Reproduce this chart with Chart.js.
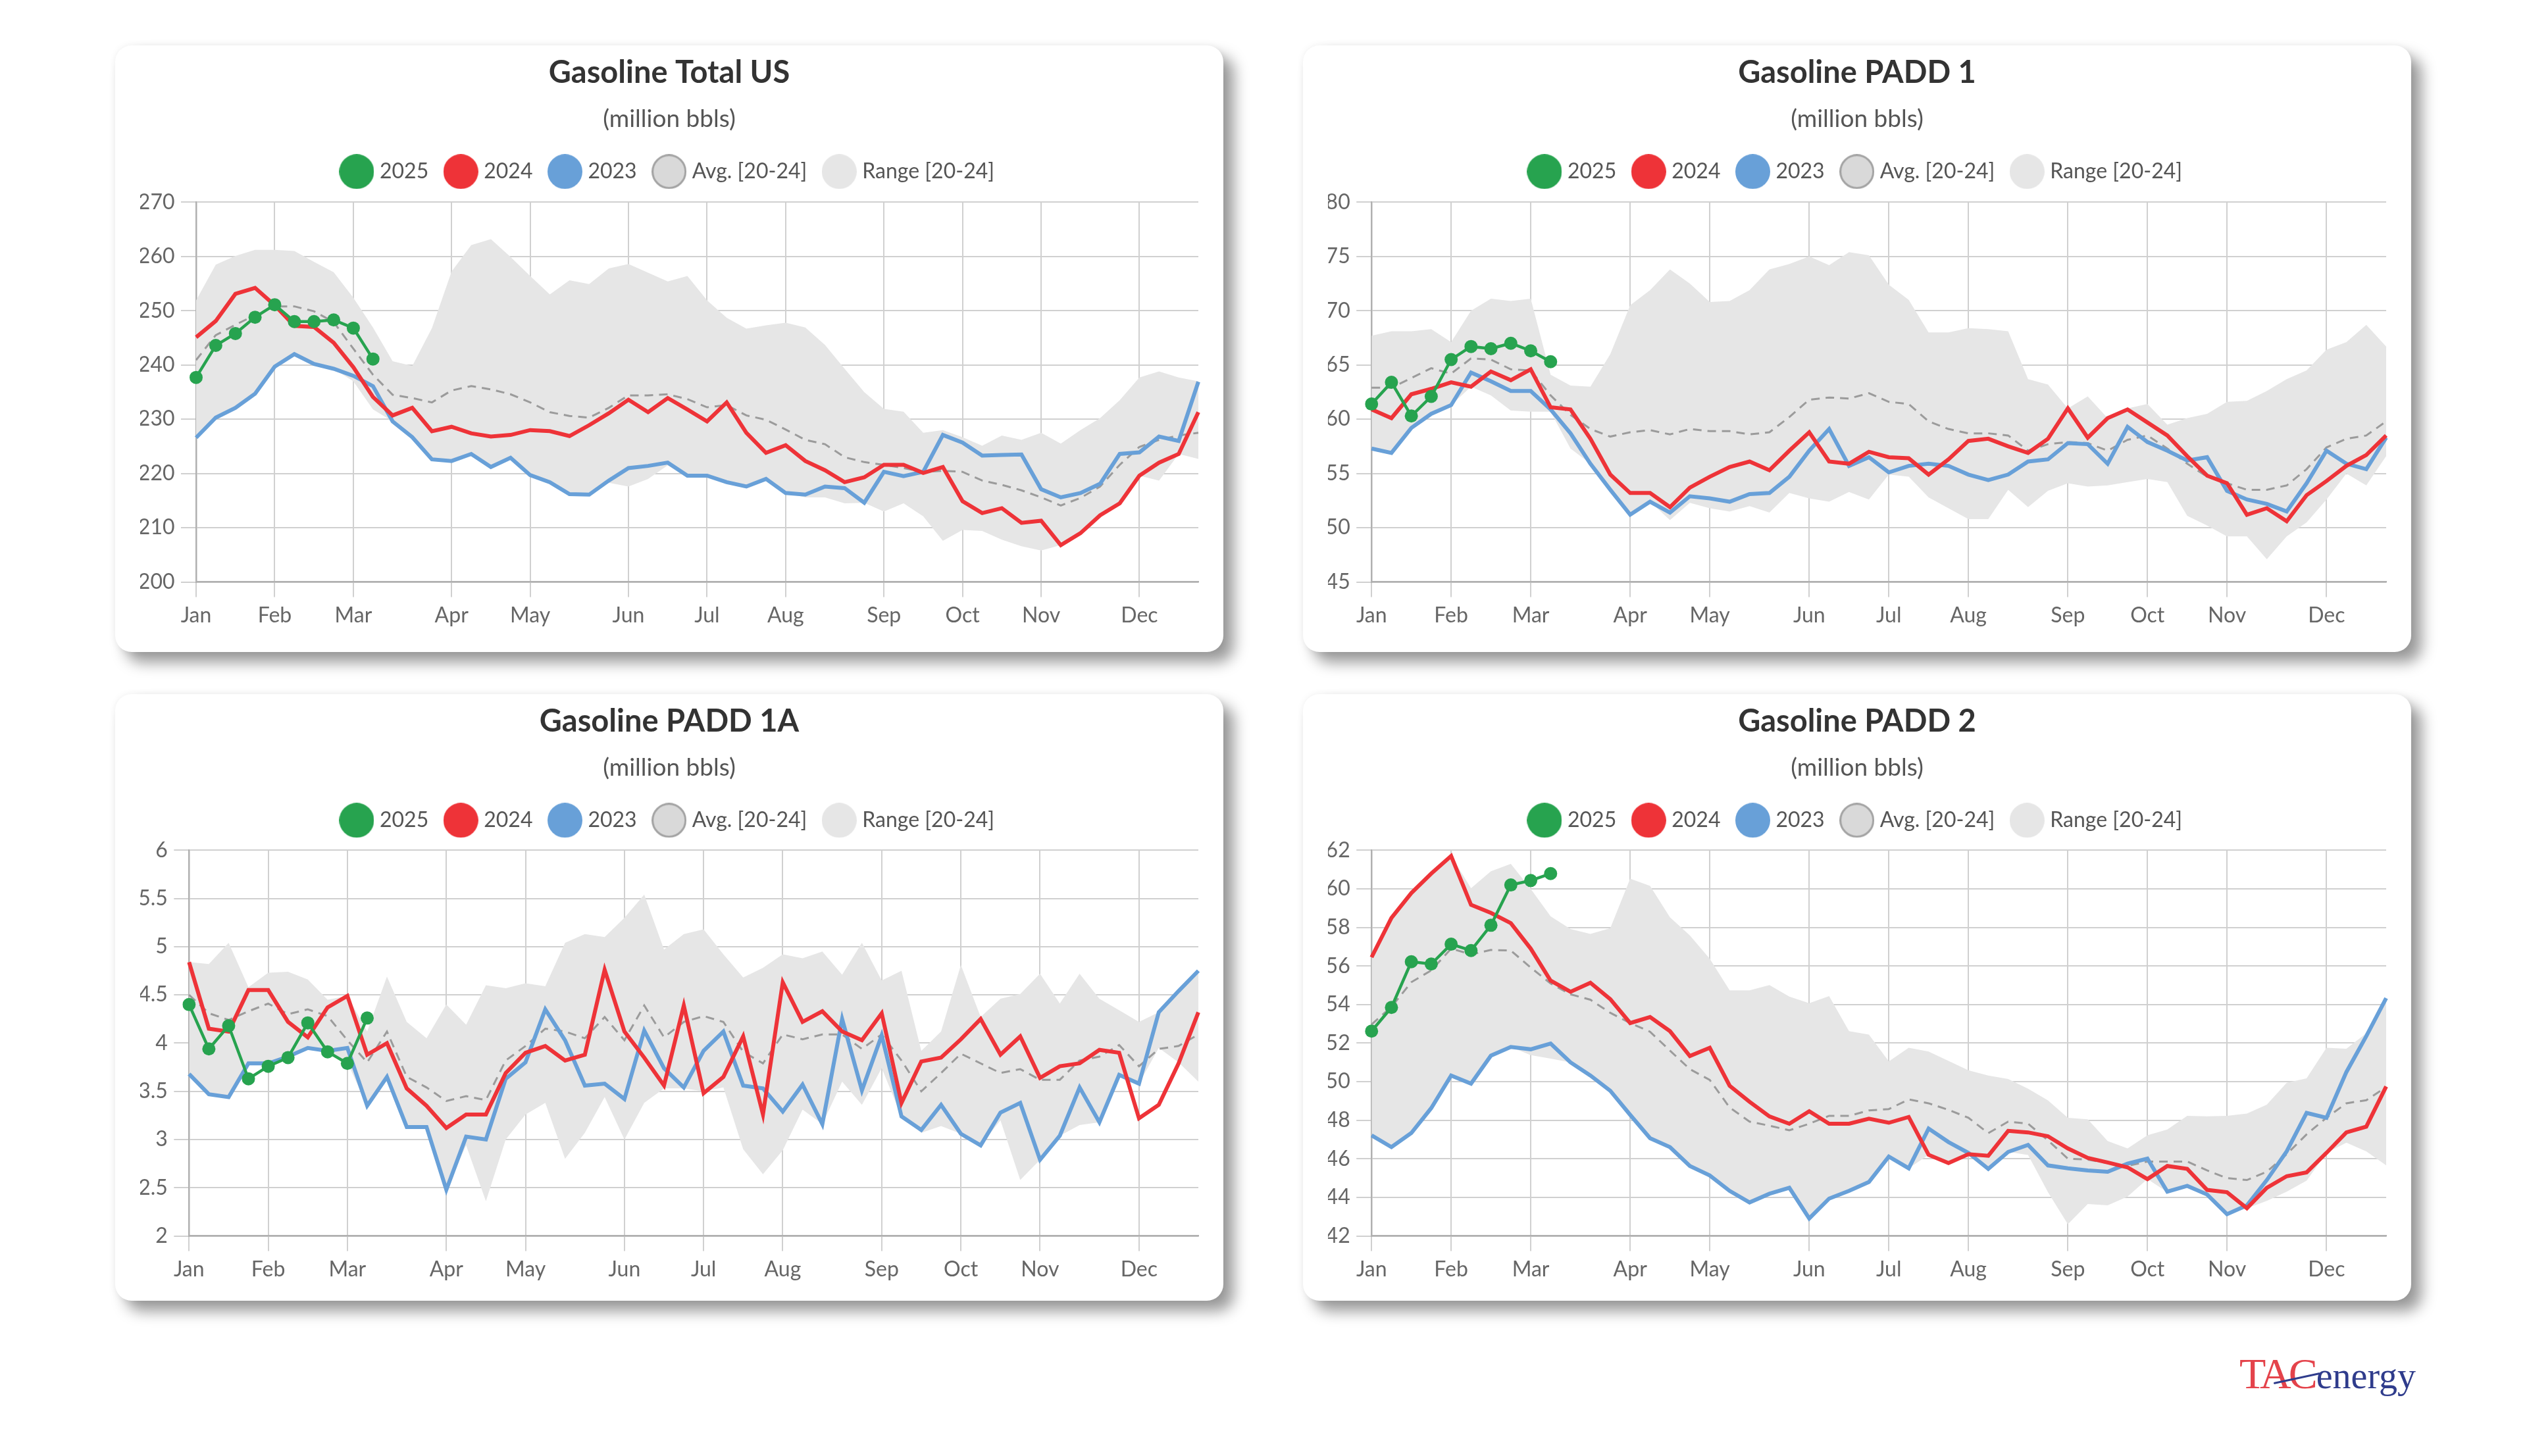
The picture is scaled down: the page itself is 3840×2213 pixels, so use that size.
<!DOCTYPE html>
<html><head><meta charset="utf-8">
<script src="https://cdn.jsdelivr.net/npm/chart.js@4.4.1/dist/chart.umd.min.js"></script>
<style>
html,body{margin:0;padding:0;background:#fff;}
body{width:3840px;height:2213px;position:relative;overflow:hidden;font-family:Lato,sans-serif;}
.card{position:absolute;width:1684px;height:922px;background:#fff;border-radius:25px;
  box-shadow:16px 16px 22px rgba(0,0,0,0.40), 0 0 12px rgba(0,0,0,0.06);}
.card canvas{position:absolute;left:0;top:0;}
#logo{position:absolute;left:3403px;top:2055px;font-family:"Liberation Serif",serif;font-size:66px;line-height:66px;white-space:nowrap;}
#logo .tac{color:#e4434b;letter-spacing:-4px;}
#logo .en{color:#2f3c8c;font-size:56px;margin-left:2px;}
#swoosh{position:absolute;left:3455px;top:2101px;width:72px;height:3px;background:#2f3c8c;transform-origin:0 50%;transform:rotate(-12deg);border-radius:2px;}
</style></head><body>
<div class="card" style="left:175px;top:69px"><canvas id="c1" width="1684" height="922"></canvas></div>
<div class="card" style="left:1980px;top:69px"><canvas id="c2" width="1684" height="922"></canvas></div>
<div class="card" style="left:175px;top:1055px"><canvas id="c3" width="1684" height="922"></canvas></div>
<div class="card" style="left:1980px;top:1055px"><canvas id="c4" width="1684" height="922"></canvas></div>
<div id="logo"><span class="tac">TAC</span><span class="en">energy</span></div>
<div id="swoosh"></div>
<script>
// ---- tick labels (weekly category axis, month shown at first week of month)
const weekLabels = ['Jan','','','','Feb','','','','Mar','','','','','Apr','','','','May','','','','','Jun','','','','Jul','','','','Aug','','','','','Sep','','','','Oct','','','','Nov','','','','','Dec','','',''];

// ---- Gasoline Total US
const us2025 = [237.7,243.6,245.8,248.8,251.1,248.0,248.0,248.3,246.8,241.1];
const us2024 = [245.1,248.1,253.1,254.2,251.0,247.2,247.0,244.1,239.6,234.1,230.7,232.1,227.8,228.6,227.4,226.8,227.1,228.0,227.8,226.9,228.9,231.1,233.6,231.3,233.9,231.8,229.6,233.1,227.5,223.8,225.2,222.3,220.6,218.4,219.3,221.6,221.6,220.1,221.2,214.9,212.7,213.6,210.9,211.3,206.8,209.0,212.3,214.5,219.6,222.0,223.6,231.3];
const us2023 = [226.6,230.3,232.1,234.7,239.7,242.0,240.2,239.3,238.0,236.1,229.6,226.7,222.6,222.3,223.6,221.2,222.9,219.7,218.4,216.2,216.1,218.7,221.0,221.4,222.0,219.6,219.6,218.4,217.6,219.0,216.4,216.1,217.6,217.3,214.6,220.3,219.5,220.3,227.1,225.7,223.3,223.4,223.5,217.1,215.6,216.4,218.1,223.6,223.9,226.8,226.0,236.9];
const usAvg = [240.9,245.5,247.4,249.2,250.8,250.8,249.9,247.9,243.0,238.2,234.5,233.9,233.1,235.3,236.1,235.5,234.6,233.1,231.3,230.6,230.3,232.1,234.4,234.4,234.6,233.7,232.2,232.6,230.7,229.9,228.1,226.2,225.4,223.0,222.1,221.6,221.0,220.3,220.5,220.3,218.7,217.9,216.9,215.6,214.1,215.5,217.6,221.6,224.9,226.2,227.0,227.5];
const usMax = [251.9,258.5,260.1,261.2,261.2,261.0,259.0,257.1,252.4,246.9,240.7,239.8,246.8,257.2,262.1,263.2,259.9,256.4,253.0,255.6,254.9,257.8,258.6,257.0,255.4,256.4,251.9,248.7,246.7,247.3,247.8,246.9,243.7,239.3,235.0,231.9,231.4,227.5,228.0,226.7,225.1,227.0,226.2,227.5,225.5,228.0,230.2,233.5,237.7,238.8,237.7,237.0];
const usMin = [226.6,230.3,232.1,234.7,239.7,242.0,240.2,239.3,237.0,231.8,229.6,226.7,222.6,222.3,223.6,221.2,222.9,219.7,218.4,216.2,216.1,218.3,217.6,219.0,221.5,219.6,219.6,218.4,217.6,219.0,216.4,215.6,215.6,214.5,214.6,213.0,214.5,212.1,207.6,209.6,209.4,207.8,206.6,205.8,206.8,209.0,212.3,214.5,219.6,218.7,223.6,222.7];

// ---- Gasoline PADD 1
const p1_2025 = [61.4,63.4,60.3,62.1,65.5,66.7,66.5,67.0,66.3,65.3];
const p1_2024 = [60.9,60.1,62.3,62.8,63.4,63.0,64.4,63.6,64.6,61.1,60.9,58.2,54.9,53.2,53.2,51.9,53.7,54.7,55.6,56.1,55.3,57.1,58.8,56.1,55.9,57.0,56.5,56.4,54.9,56.3,58.0,58.2,57.5,56.9,58.2,61.0,58.3,60.1,60.9,59.7,58.5,56.6,54.8,54.1,51.2,51.8,50.6,53.0,54.3,55.7,56.7,58.5];
const p1_2023 = [57.3,56.9,59.2,60.5,61.3,64.3,63.5,62.6,62.6,60.9,58.7,55.9,53.5,51.2,52.4,51.4,52.9,52.7,52.4,53.1,53.2,54.7,57.1,59.1,55.7,56.5,55.1,55.7,55.9,55.7,54.9,54.4,54.9,56.1,56.3,57.8,57.7,55.9,59.3,57.9,57.1,56.2,56.5,53.4,52.6,52.2,51.5,54.1,57.1,55.9,55.4,58.3];
const p1Avg = [62.9,62.9,63.8,64.7,64.2,65.6,65.5,64.6,64.5,62.2,60.4,59.1,58.4,58.8,59.0,58.6,59.1,58.9,58.9,58.6,58.8,60.2,61.8,62.0,61.9,62.4,61.6,61.4,59.8,59.1,58.7,58.7,58.5,57.1,57.7,57.9,57.8,57.1,58.1,58.5,57.3,55.9,54.7,54.1,53.5,53.5,53.9,55.4,57.4,58.2,58.5,59.8];
const p1Max = [67.7,68.1,68.1,68.3,67.1,70.0,71.1,70.9,71.1,64.1,63.1,63.0,66.0,70.5,71.9,73.8,72.5,70.8,70.9,71.9,73.8,74.3,75.0,74.2,75.4,75.1,72.4,71.0,68.0,68.0,68.4,68.3,68.1,63.7,63.2,61.0,62.1,60.1,61.0,61.4,59.5,60.1,60.5,61.6,61.7,62.6,63.7,64.5,66.4,67.1,68.7,66.7];
const p1Min = [57.3,56.9,59.2,60.5,61.3,63.0,62.2,60.8,60.7,60.7,57.3,55.9,53.5,51.2,52.4,50.7,52.3,51.8,51.5,52.0,51.4,53.2,52.7,52.4,53.3,52.6,54.9,54.7,52.8,51.8,50.8,50.8,53.5,51.9,53.4,54.1,53.8,53.9,54.2,54.5,54.2,51.1,50.2,49.2,49.2,47.1,49.2,50.5,52.6,55.0,53.9,56.6];

// ---- Gasoline PADD 1A
const a2025 = [4.40,3.94,4.18,3.63,3.76,3.85,4.21,3.91,3.79,4.26];
const a2024 = [4.84,4.15,4.12,4.55,4.55,4.22,4.06,4.37,4.49,3.88,4.00,3.53,3.35,3.12,3.26,3.26,3.69,3.90,3.97,3.82,3.88,4.76,4.12,3.85,3.56,4.39,3.48,3.65,4.07,3.26,4.63,4.22,4.33,4.12,4.03,4.31,3.38,3.81,3.85,4.04,4.25,3.88,4.07,3.64,3.76,3.79,3.93,3.90,3.22,3.36,3.79,4.32];
const a2023 = [3.68,3.47,3.44,3.79,3.79,3.86,3.95,3.92,3.95,3.35,3.65,3.13,3.13,2.48,3.03,3.00,3.63,3.80,4.35,4.03,3.56,3.58,3.42,4.13,3.74,3.54,3.92,4.12,3.56,3.53,3.29,3.57,3.16,4.25,3.51,4.08,3.24,3.10,3.36,3.06,2.94,3.28,3.38,2.79,3.04,3.54,3.18,3.67,3.58,4.32,4.54,4.75];
const aAvg = [4.50,4.31,4.24,4.33,4.41,4.30,4.35,4.28,4.03,3.80,4.12,3.65,3.54,3.40,3.45,3.41,3.82,3.97,4.15,4.12,4.05,4.27,4.03,4.39,4.06,4.22,4.28,4.22,3.91,3.79,4.09,4.04,4.09,4.09,3.94,4.09,3.82,3.50,3.69,3.89,3.79,3.69,3.73,3.62,3.62,3.82,3.86,3.98,3.76,3.94,3.97,4.09];
const aMax = [4.84,4.82,5.04,4.58,4.73,4.74,4.66,4.45,4.49,4.12,4.69,4.22,4.05,4.40,4.19,4.60,4.57,4.62,4.59,5.04,5.13,5.10,5.30,5.54,4.97,5.13,5.18,4.92,4.68,4.78,4.92,4.88,4.95,4.71,5.04,4.65,4.75,3.92,4.12,4.81,4.27,4.46,4.51,4.72,4.41,4.72,4.46,4.34,4.22,4.32,4.54,4.75];
const aMin = [3.68,3.47,3.44,3.79,3.79,3.86,3.95,3.92,3.80,3.35,3.65,3.13,3.13,2.48,2.94,2.36,3.00,3.26,3.38,2.80,3.07,3.44,3.00,3.38,3.53,3.53,3.50,3.54,2.90,2.64,2.89,3.31,3.16,3.60,3.36,3.74,3.24,3.07,3.14,3.06,2.94,3.20,2.58,2.79,3.04,3.15,3.18,3.67,3.58,3.95,3.80,3.60];

// ---- Gasoline PADD 2
const b2025 = [52.62,53.85,56.22,56.10,57.13,56.80,58.11,60.20,60.43,60.79];
const b2024 = [56.45,58.49,59.78,60.79,61.70,59.17,58.75,58.22,56.90,55.24,54.66,55.13,54.28,53.04,53.35,52.62,51.33,51.76,49.79,48.96,48.20,47.82,48.47,47.82,47.82,48.08,47.87,48.17,46.21,45.78,46.24,46.16,47.45,47.37,47.17,46.54,46.05,45.81,45.56,44.95,45.63,45.48,44.39,44.27,43.44,44.50,45.10,45.30,46.31,47.37,47.67,49.75];
const b2023 = [47.22,46.61,47.34,48.63,50.32,49.90,51.35,51.80,51.68,51.98,51.00,50.32,49.53,48.28,47.07,46.61,45.63,45.14,44.34,43.74,44.19,44.50,42.91,43.94,44.34,44.80,46.12,45.51,47.57,46.87,46.31,45.48,46.36,46.72,45.66,45.51,45.40,45.33,45.75,46.01,44.30,44.60,44.15,43.13,43.59,44.90,46.39,48.38,48.13,50.50,52.36,54.33];
const bAvg = [52.97,53.88,55.16,55.77,56.90,56.60,56.83,56.80,55.92,55.09,54.53,54.25,53.57,53.04,52.59,51.61,50.65,50.09,48.66,47.93,47.72,47.48,47.82,48.23,48.23,48.51,48.58,49.08,48.88,48.54,48.13,47.33,47.93,47.82,46.96,46.01,45.96,45.78,45.63,45.86,45.86,45.86,45.40,45.00,44.90,45.33,46.24,47.27,48.13,48.88,49.04,49.72];
const bMax = [56.45,58.49,59.78,60.79,61.70,60.03,60.91,61.29,60.00,58.57,57.92,57.66,57.96,60.53,60.15,58.52,57.58,56.37,54.74,54.74,55.01,54.41,54.07,54.44,52.62,52.44,51.05,51.76,51.56,51.08,50.59,50.32,50.14,49.64,49.03,48.13,48.05,46.92,46.54,47.22,47.52,48.23,48.20,48.23,48.35,48.81,49.94,50.17,51.76,51.71,52.51,54.33];
const bMin = [47.22,46.61,47.34,48.63,50.32,49.90,51.35,51.80,51.38,51.20,51.00,50.32,49.53,48.28,47.07,46.61,45.63,45.14,44.34,43.74,44.19,44.50,42.91,43.94,44.34,44.80,46.12,45.51,46.21,45.78,46.24,45.48,46.36,46.20,44.27,42.61,43.66,43.59,44.04,44.95,44.27,44.60,44.15,43.13,43.44,43.82,44.30,44.87,46.31,46.84,46.39,45.66];

// ---- styles
const GREEN = '#27a34f', RED = '#ee3338', BLUE = '#68a0d8', AVG = '#9b9b9b', RANGE = '#e6e6e6';
const GRID = '#d0d0d0', AXIS = '#b0b0b0', TXT = '#666666';
const FONT = 'Lato, "Open Sans", sans-serif';
Chart.defaults.font.family = FONT;

function circleImg(fill, stroke, lw) {
  const c = document.createElement('canvas');
  c.width = 53; c.height = 53;
  const g = c.getContext('2d');
  g.beginPath(); g.arc(26.5, 26.5, 26.5 - (lw || 0) / 2, 0, Math.PI * 2);
  g.fillStyle = fill; g.fill();
  if (lw) { g.lineWidth = lw; g.strokeStyle = stroke; g.stroke(); }
  return c;
}
const legendImgs = [circleImg(GREEN), circleImg(RED), circleImg(BLUE), circleImg('#d9d9d9', '#a3a3a3', 3), circleImg(RANGE)];

function genLabels(chart) {
  const items = Chart.defaults.plugins.legend.labels.generateLabels(chart);
  return items.filter(i => i.datasetIndex < 5).map(i => Object.assign(i, { pointStyle: legendImgs[i.datasetIndex], lineDash: [], lineWidth: 0 }));
}

function spacer(extra) {
  return {
    id: 'legendSpacer',
    beforeLayout(chart) {
      const lg = chart.legend;
      if (lg && !lg.__patched) {
        const f = lg.fit;
        lg.fit = function () { f.call(this); this.height += extra; };
        lg.__patched = true;
      }
    }
  };
}

function makeChart(id, title, s25, s24, s23, avg, hi, lo, yMin, yMax, yStep, yWidth, bottomPad, extra) {
  return new Chart(document.getElementById(id), {
    type: 'line',
    data: {
      labels: weekLabels,
      datasets: [
        { label: '2025', data: s25, borderColor: GREEN, backgroundColor: GREEN, borderWidth: 4.5, pointRadius: 10, pointHoverRadius: 10, pointBackgroundColor: GREEN, pointBorderWidth: 0, tension: 0 },
        { label: '2024', data: s24, borderColor: RED, backgroundColor: RED, borderWidth: 6, pointRadius: 0, tension: 0 },
        { label: '2023', data: s23, borderColor: BLUE, backgroundColor: BLUE, borderWidth: 6, pointRadius: 0, tension: 0 },
        { label: 'Avg. [20-24]', data: avg, borderColor: AVG, backgroundColor: '#d9d9d9', borderWidth: 3, borderDash: [13, 9], pointRadius: 0, tension: 0 },
        { label: 'Range [20-24]', data: hi, borderColor: 'rgba(0,0,0,0)', backgroundColor: RANGE, borderWidth: 1, pointRadius: 0, fill: '+1', tension: 0 },
        { label: 'range-low', data: lo, borderColor: 'rgba(0,0,0,0)', backgroundColor: RANGE, borderWidth: 1, pointRadius: 0, fill: false, tension: 0 }
      ]
    },
    options: {
      responsive: false, animation: false, devicePixelRatio: 1,
      events: [],
      layout: { padding: { left: 38, right: 38, top: 0, bottom: bottomPad } },
      plugins: {
        title: { display: true, text: title, color: '#333333', font: { size: 47, weight: 'bold', family: FONT }, padding: { top: 14, bottom: 0 } },
        subtitle: { display: true, text: '(million bbls)', color: '#555555', font: { size: 37, weight: 'normal', family: FONT }, padding: { top: 19, bottom: 12 } },
        legend: { display: true, labels: { usePointStyle: true, pointStyleWidth: 38, color: '#555555', font: { size: 32, family: FONT }, padding: 30, generateLabels: genLabels } },
        tooltip: { enabled: false }
      },
      scales: {
        x: {
          grid: { color: c => (weekLabels[c.index] ? GRID : 'rgba(0,0,0,0)'), lineWidth: 2, tickLength: 23 },
          border: { color: AXIS, width: 2.5 },
          ticks: { autoSkip: false, maxRotation: 0, minRotation: 0, color: TXT, font: { size: 32, family: FONT }, padding: 9 }
        },
        y: {
          min: yMin, max: yMax,
          grid: { color: GRID, lineWidth: 2, tickLength: 23 },
          border: { color: AXIS, width: 2.5 },
          ticks: { stepSize: yStep, color: TXT, font: { size: 32, family: FONT }, padding: 9.5,
                   callback: v => String(Math.round(v * 100) / 100) },
          afterFit: s => { s.width = yWidth; }
        }
      }
    },
    plugins: [spacer(extra)]
  });
}

makeChart('c1', 'Gasoline Total US', us2025, us2024, us2023, usAvg, usMax, usMin, 200, 270, 10, 85, 27, 20.5);
makeChart('c2', 'Gasoline PADD 1', p1_2025, p1_2024, p1_2023, p1Avg, p1Max, p1Min, 45, 80, 5, 66.2, 27, 20.5);
makeChart('c3', 'Gasoline PADD 1A', a2025, a2024, a2023, aAvg, aMax, aMin, 2, 6, 0.5, 74.3, 19, 19.5);
makeChart('c4', 'Gasoline PADD 2', b2025, b2024, b2023, bAvg, bMax, bMin, 42, 62, 2, 66.2, 19, 19.5);
</script>
</body></html>
